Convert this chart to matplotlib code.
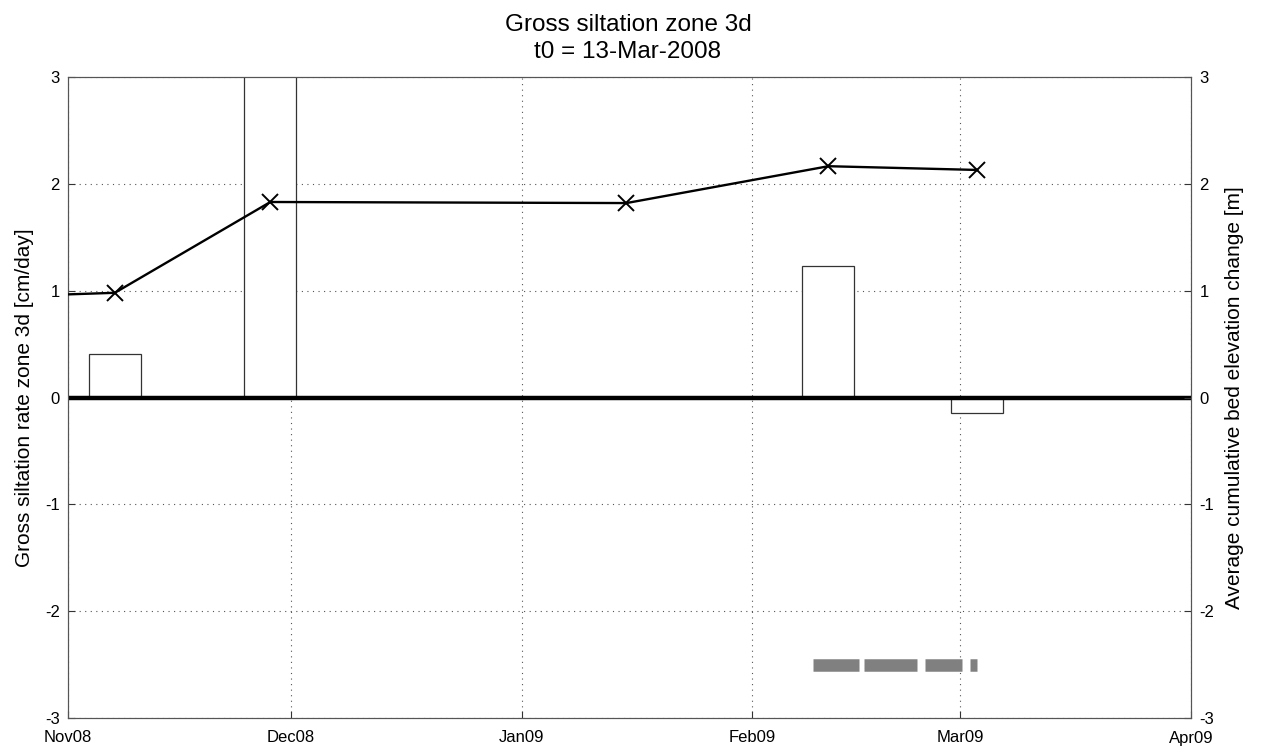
import matplotlib
matplotlib.use("Agg")
import matplotlib.pyplot as plt
import matplotlib.dates as mdates
import numpy as np
import pandas as pd

plt.rcParams['font.family'] = ['Liberation Sans', 'DejaVu Sans']
plt.rcParams['axes.unicode_minus'] = False

# ---- data ----
survey_dates = pd.to_datetime(['2008-11-07 07:00', '2008-11-28 05:00', '2009-01-15 02:00',
                               '2009-02-11 06:00', '2009-03-03 05:00'])
siltation_rate = [0.41, 4.0, 0.0, 1.23, -0.145]          # cm/day (left axis)
prev_date = pd.to_datetime(['2008-10-17'])
prev_cum = [0.93]
cumulative_change = [0.98, 1.83, 1.82, 2.165, 2.13]       # m (right axis)
coverage_start = pd.to_datetime(['2009-02-09 03:00', '2009-02-16 02:00', '2009-02-24 05:00', '2009-03-02 07:00'])
coverage_end = pd.to_datetime(['2009-02-15 10:00', '2009-02-23 05:00', '2009-03-01 05:00', '2009-03-03 07:00'])
coverage_level = -2.5
month_ticks = pd.to_datetime(['2008-11-01', '2008-12-01', '2009-01-01', '2009-02-01', '2009-03-01', '2009-04-01'])
y_ticks = [-3, -2, -1, 0, 1, 2, 3]
title_lines = ['Gross siltation zone 3d', 't0 = 13-Mar-2008']
left_label = 'Gross siltation rate zone 3d [cm/day]'
right_label = 'Average cumulative bed elevation change [m]'

W, H = 1266, 747
L, R, T, B = 68, 1191, 77, 718
fig = plt.figure(figsize=(W / 100, H / 100), dpi=100)
ax = fig.add_axes([L / W, 1 - B / H, (R - L) / W, (B - T) / H])

# bars
ax.bar(survey_dates, siltation_rate, width=7, facecolor='white', edgecolor='#333333',
       linewidth=0.9, zorder=2)
ax.axhline(0, color='black', linewidth=3.2, zorder=3)

# coverage segments
for s, e in zip(coverage_start, coverage_end):
    ax.plot([s, e], [coverage_level, coverage_level], color='#808080', linewidth=9,
            solid_capstyle='butt', zorder=2)

ax.set_xlim(month_ticks[0], month_ticks[-1])
ax.set_ylim(-3, 3)
ax.set_xticks(month_ticks)
ax.xaxis.set_major_formatter(mdates.DateFormatter('%b%y'))
ax.set_yticks(y_ticks)
ax.grid(True, linestyle=(0, (1, 4)), color='#555555', linewidth=0.8)
ax.tick_params(direction='in', length=5, labelsize=12, color='#333333')
ax.tick_params(axis='x', pad=9)
ax.tick_params(axis='y', pad=6)
ax.set_ylabel(left_label, fontsize=15, labelpad=8)
for sp in ax.spines.values():
    sp.set_color('#555555')

ax2 = ax.twinx()
ax2.plot(list(prev_date) + list(survey_dates), prev_cum + cumulative_change, color='black',
         linewidth=1.7, zorder=4)
ax2.plot(survey_dates, cumulative_change, linestyle='none', marker='x', markersize=12,
         markeredgewidth=1.4, color='black', zorder=5)
ax2.set_ylim(-3, 3)
ax2.set_yticks(y_ticks)
ax2.set_xlim(month_ticks[0], month_ticks[-1])
ax2.tick_params(direction='in', length=5, labelsize=12, color='#333333', pad=6)
ax2.set_ylabel(right_label, fontsize=15, labelpad=8)
for sp in ax2.spines.values():
    sp.set_color('#555555')

fig.text(628 / W, 1 - 25 / H, title_lines[0], ha='center', va='center', fontsize=17.5)
fig.text(628 / W, 1 - 52 / H, title_lines[1], ha='center', va='center', fontsize=17.5)

fig.savefig('out.png', dpi=100)
